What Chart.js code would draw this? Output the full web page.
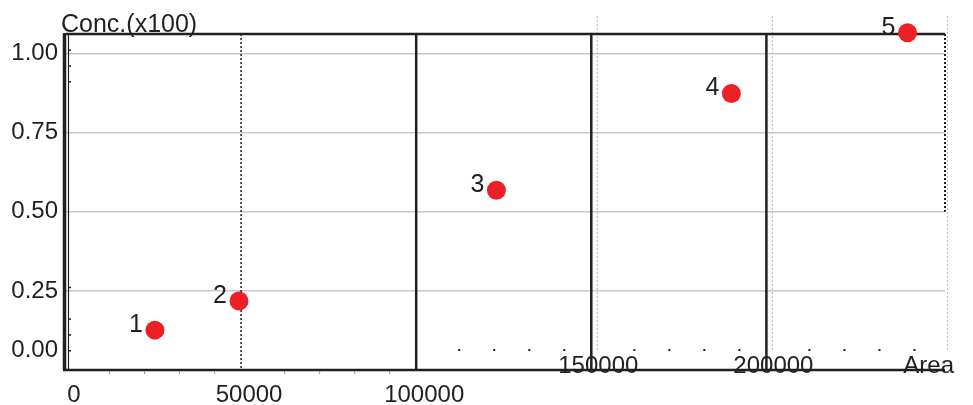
<!DOCTYPE html>
<html>
<head>
<meta charset="utf-8">
<script src="https://cdn.jsdelivr.net/npm/chart.js@4"></script>
<style>
    html, body { margin: 0; padding: 0; background: #ffffff; }
    .chart-box { width: 973px; height: 405px; position: relative; }
</style>
</head>
<body>
<div class="chart-box"><canvas id="calChart"></canvas></div>
<script>
// calibration points
let pointNames = ["1", "2", "3", "4", "5"];
let areaValues = [25400, 49400, 122900, 190000, 240300];
let concValues = [0.126, 0.218, 0.568, 0.874, 1.066];

let xTickValues = [0, 50000, 100000, 150000, 200000];
let yTickValues = [0, 0.25, 0.5, 0.75, 1.0];
let xAxisName = "Area";
let yAxisName = "Conc.(x100)";

let inkColor = "#231f20";
let labelFont = "24px 'Liberation Sans', Arial, sans-serif";

function line(ctx, x1, y1, x2, y2, width, color, dash) {
    ctx.save();
    ctx.beginPath();
    ctx.lineWidth = width;
    ctx.strokeStyle = color;
    ctx.setLineDash(dash || []);
    ctx.moveTo(x1, y1);
    ctx.lineTo(x2, y2);
    ctx.stroke();
    ctx.restore();
}

// the frame and the odd extra grid of the original
const frameLines = {
    id: "frameLines",
    beforeDatasetsDraw(chart) {
        const {ctx, chartArea: {top, bottom, left, right}, scales: {x, y}} = chart;

        // faint dotted verticals, a bit right of the major lines
        for(let v of [150000, 200000, 250000]) {
            let px = x.getPixelForValue(v) + 6;
            line(ctx, px, 16, px, bottom - 20, 1.2, "#c4c4c4", [2, 2]);
        }

        line(ctx, x.getPixelForValue(50000), top, x.getPixelForValue(50000), bottom, 1.5, inkColor, [2, 2]);
        for(let v of [100000, 150000, 200000]) {
            let px = x.getPixelForValue(v);
            line(ctx, px, top, px, bottom, 2.5, inkColor);
        }

        line(ctx, left, top, right, top, 2.5, inkColor);
        line(ctx, right, top, right, y.getPixelForValue(0.5), 2, inkColor, [2, 2]);
        line(ctx, left - 3, bottom, right, bottom, 2.5, inkColor);
        line(ctx, left - 1.5, top - 1, left - 1.5, bottom, 3.5, inkColor);
        line(ctx, left + 2.5, top, left + 2.5, bottom, 1.2, inkColor);

        // stray minor marks
        ctx.save();
        ctx.fillStyle = inkColor;
        for(let v = 110000; v < 250000; v += 10000) {
            if(v % 50000 == 0) continue;
            ctx.fillRect(x.getPixelForValue(v) + 8 - 1, bottom - 21, 2, 2);
        }
        ctx.fillStyle = "#9a9a9a";
        for(let v = 10000; v < 100000; v += 10000) {
            if(v % 50000 == 0) continue;
            ctx.fillRect(x.getPixelForValue(v) + 8, bottom + 1, 1, 3);
        }
        ctx.fillStyle = inkColor;
        for(let v of [0.85, 0.9, 0.95, 0.2, 0.1, 0.05, 0.0]) {
            ctx.fillRect(left + 2, y.getPixelForValue(v) - 20, 3, 1.5);
        }
        ctx.restore();
    },
    afterDatasetsDraw(chart) {
        const {ctx, chartArea: {top, bottom, left, right}, scales: {x, y}} = chart;
        ctx.save();
        ctx.fillStyle = inkColor;
        ctx.font = "25px 'Liberation Sans', Arial, sans-serif";
        ctx.textAlign = "right";
        ctx.textBaseline = "middle";
        chart.getDatasetMeta(0).data.forEach((pt, i) => {
            ctx.fillText(pointNames[i], pt.x - 12, pt.y - 5);
        });

        ctx.textAlign = "left";
        ctx.textBaseline = "alphabetic";
        ctx.fillText(yAxisName, left - 5, top - 2);

        ctx.font = labelFont;
        ctx.textBaseline = "middle";
        ctx.textAlign = "center";
        for(let v of xTickValues.slice(3)) {
            ctx.fillText(String(v), x.getPixelForValue(v) + 7, bottom - 4);
        }
        ctx.textAlign = "right";
        ctx.fillText(xAxisName, right + 9, bottom - 4);
        ctx.fillText("0.00", left - 8, y.getPixelForValue(0) - 20);
        ctx.restore();
    }
};

new Chart(document.getElementById("calChart"), {
    type: "scatter",
    data: {
        datasets: [
            {
                data: areaValues.map((a, i) => ({x: a, y: concValues[i]})),
                backgroundColor: "#ec2127",
                borderColor: "#ec2127",
                pointRadius: 9.5,
                borderWidth: 0,
                clip: false,
            },
        ],
    },
    options: {
        responsive: true,
        maintainAspectRatio: false,
        animation: false,
        layout: {
            padding: {top: 34, right: 28, left: 0, bottom: 0},
        },
        plugins: {
            legend: {display: false},
            tooltip: {enabled: false},
        },
        scales: {
            x: {
                type: "linear",
                min: 0,
                max: 251000,
                afterBuildTicks(scale) {
                    scale.ticks = xTickValues.map(v => ({value: v}));
                },
                afterFit(scale) {
                    scale.height = 35;
                },
                grid: {display: false},
                border: {display: false},
                ticks: {
                    color: inkColor,
                    font: {family: "'Liberation Sans', Arial, sans-serif", size: 24},
                    padding: 3,
                    labelOffset: 8,
                    maxRotation: 0,
                    autoSkip: false,
                    callback: v => (v <= 100000 ? String(v) : ""),
                },
            },
            y: {
                type: "linear",
                min: 0,
                max: 1.062,
                afterBuildTicks(scale) {
                    scale.ticks = yTickValues.map(v => ({value: v}));
                },
                afterFit(scale) {
                    scale.width = 66;
                },
                grid: {
                    drawTicks: false,
                    lineWidth: 1.5,
                    color: ctx => (ctx.tick && ctx.tick.value == 0 ? "rgba(0,0,0,0)" : "#c8c8c8"),
                },
                border: {display: false},
                ticks: {
                    color: inkColor,
                    font: {family: "'Liberation Sans', Arial, sans-serif", size: 24},
                    padding: 8,
                    callback: v => (v == 0 ? "" : v.toFixed(2)),
                },
            },
        },
    },
    plugins: [frameLines],
});
</script>
</body>
</html>
